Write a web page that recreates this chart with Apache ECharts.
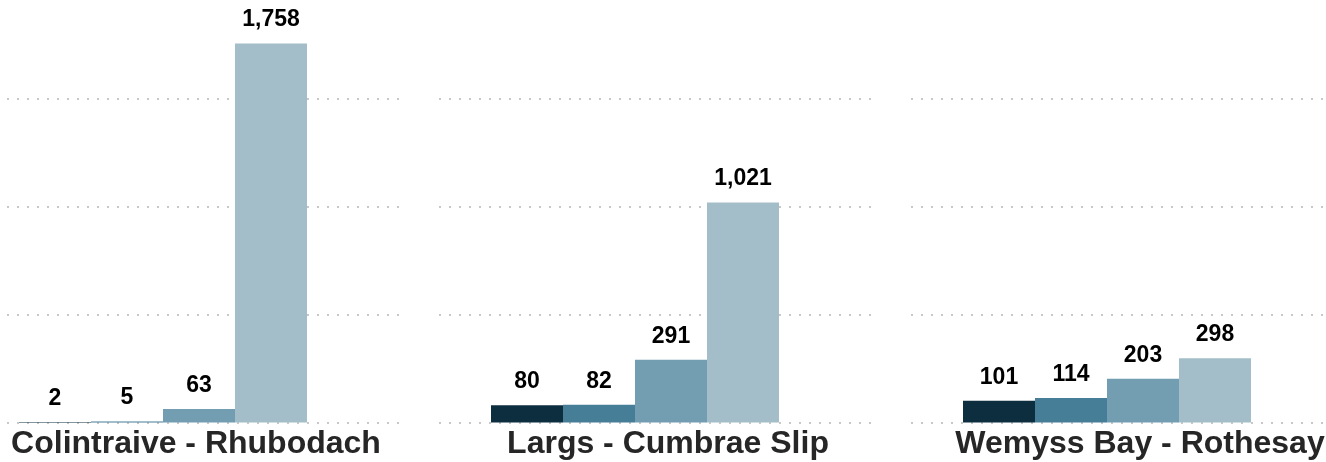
<!DOCTYPE html>
<html>
<head>
<meta charset="utf-8">
<script src="https://cdn.jsdelivr.net/npm/echarts@6/dist/echarts.min.js"></script>
<style>
  html, body { margin: 0; padding: 0; background: #fff; }
  #main { width: 1326px; height: 462px; }
</style>
</head>
<body>
<div id="main"></div>
<script>
// routes (one panel each) and the four bars per route
var routes = ["Colintraive - Rhubodach", "Largs - Cumbrae Slip", "Wemyss Bay - Rothesay"];
var barKeys = ["a", "b", "c", "d"];
var routeValues = [
    [2, 5, 63, 1758],
    [80, 82, 291, 1021],
    [101, 114, 203, 298]
];
var barColors = ["#0d2e3e", "#467d97", "#739eb2", "#a3bec9"];

var chart = echarts.init(document.getElementById("main"));

var grids = [], xAxes = [], yAxes = [], series = [];
var panelStep = 472;
var yMax = 1960;

routes.forEach(function (route, p) {
    var left = -33 + p * panelStep;

    // background grid: only the dotted lines
    grids.push({ left: left, width: 440, top: 0, bottom: 39.5, outerBoundsMode: "none" });
    xAxes.push({ type: "category", gridIndex: grids.length - 1, data: [route], show: false });
    yAxes.push({
        type: "value",
        gridIndex: grids.length - 1,
        min: 0, max: yMax, interval: 500,
        axisLabel: { show: false },
        axisLine: { show: false },
        axisTick: { show: false },
        splitLine: {
            showMaxLine: false,
            lineStyle: { color: "#c8c8c8", width: 2, type: [2, 8] }
        }
    });
    series.push({ type: "bar", xAxisIndex: xAxes.length - 1, yAxisIndex: yAxes.length - 1, data: [] });

    // bar grid
    grids.push({ left: left + 52, width: 288, top: 0, bottom: 39.5, outerBoundsMode: "none" });
    var g = grids.length - 1;
    xAxes.push({ type: "category", gridIndex: g, data: barKeys, show: false });
    // route name under the bars
    xAxes.push({
        type: "category",
        gridIndex: g,
        position: "bottom",
        offset: 0,
        data: [route],
        axisLine: { show: false },
        axisTick: { show: false },
        axisLabel: {
            fontFamily: "Liberation Sans, Arial, sans-serif",
            fontSize: 32,
            fontWeight: "bold",
            color: "#262626",
            margin: 6,
            padding: [0, 0, 0, 66]
        }
    });
    yAxes.push({
        type: "value",
        gridIndex: g,
        min: 0, max: yMax, interval: 500,
        show: false,
        splitLine: { show: false }
    });
    series.push({
        type: "bar",
        xAxisIndex: xAxes.length - 2,
        yAxisIndex: yAxes.length - 1,
        barWidth: "100%",
        data: routeValues[p].map(function (v, i) {
            return { value: v, itemStyle: { color: barColors[i] } };
        }),
        label: {
            show: true,
            position: "top",
            distance: 12,
            fontFamily: "Liberation Sans, Arial, sans-serif",
            fontSize: 23,
            fontWeight: "bold",
            color: "#000",
            formatter: function (params) {
                return params.value.toLocaleString("en-US");
            }
        }
    });
});

var option = {
    animation: false,
    grid: grids,
    xAxis: xAxes,
    yAxis: yAxes,
    series: series
};

chart.setOption(option);
</script>
</body>
</html>
